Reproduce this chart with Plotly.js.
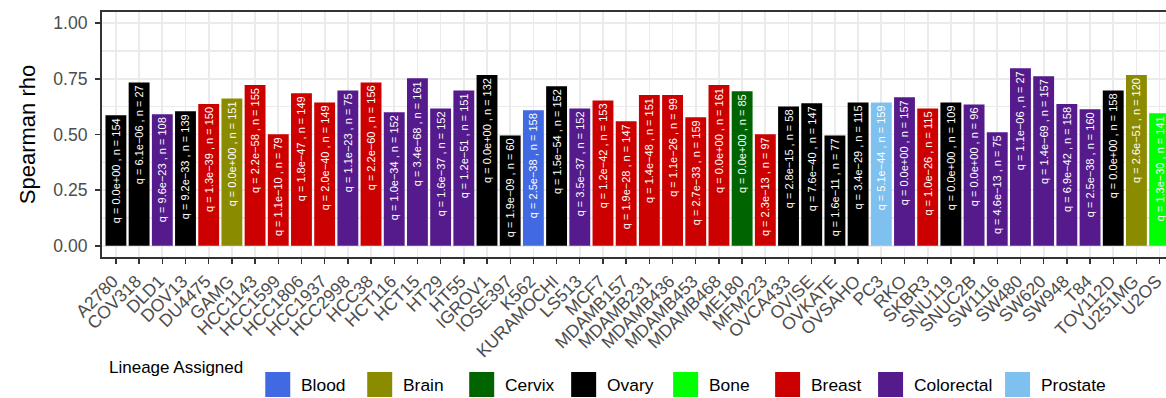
<!DOCTYPE html>
<html>
<head>
<meta charset="utf-8">
<script src="https://cdn.plot.ly/plotly-3.0.1.min.js"></script>
<style>
html,body{margin:0;padding:0;background:#fff;overflow:hidden;}
#chart{width:1166px;height:398px;}
</style>
</head>
<body>
<div id="chart"></div>
<script>
// ---------- data ----------
const cellLines = ["A2780","COV318","DLD1","DOV13","DU4475","GAMG","HCC1143","HCC1599","HCC1806","HCC1937",
  "HCC2998","HCC38","HCT116","HCT15","HT29","HT55","IGROV1","IOSE397","K562","KURAMOCHI",
  "LS513","MCF7","MDAMB157","MDAMB231","MDAMB436","MDAMB453","MDAMB468","ME180","MFM223","OVCA433",
  "OVISE","OVKATE","OVSAHO","PC3","RKO","SKBR3","SNU119","SNUC2B","SW1116","SW480",
  "SW620","SW948","T84","TOV112D","U251MG","U2OS"];

const rho = [0.586,0.734,0.591,0.604,0.637,0.662,0.722,0.501,0.685,0.644,
  0.698,0.734,0.600,0.752,0.617,0.698,0.767,0.496,0.609,0.717,
  0.617,0.653,0.559,0.677,0.677,0.577,0.722,0.694,0.501,0.626,
  0.640,0.496,0.644,0.644,0.667,0.617,0.644,0.635,0.510,0.797,
  0.762,0.637,0.613,0.698,0.767,0.595];

const lineage = ["Ovary","Ovary","Colorectal","Ovary","Breast","Brain","Breast","Breast","Breast","Breast",
  "Colorectal","Breast","Colorectal","Colorectal","Colorectal","Colorectal","Ovary","Ovary","Blood","Ovary",
  "Colorectal","Breast","Breast","Breast","Breast","Breast","Breast","Cervix","Breast","Ovary",
  "Ovary","Ovary","Ovary","Prostate","Colorectal","Breast","Ovary","Colorectal","Colorectal","Colorectal",
  "Colorectal","Colorectal","Colorectal","Ovary","Brain","Bone"];

const qValues = ["0.0e+00","6.1e\u221206","9.6e\u221223","9.2e\u221233","1.3e\u221239","0.0e+00","2.2e\u221258","1.1e\u221210","1.8e\u221247","2.0e\u221240",
  "1.1e\u221223","2.2e\u221260","1.0e\u221234","3.4e\u221268","1.6e\u221237","1.2e\u221251","0.0e+00","1.9e\u221209","2.5e\u221238","1.5e\u221254",
  "3.5e\u221237","1.2e\u221242","1.9e\u221228","1.4e\u221248","1.1e\u221226","2.7e\u221233","0.0e+00","0.0e+00","2.3e\u221213","2.8e\u221215",
  "7.6e\u221240","1.6e\u221211","3.4e\u221229","5.1e\u221244","0.0e+00","1.0e\u221226","0.0e+00","0.0e+00","4.6e\u221213","1.1e\u221206",
  "1.4e\u221269","6.9e\u221242","2.5e\u221238","0.0e+00","2.6e\u221251","1.3e\u221230"];

const nValues = [154,27,108,139,150,151,155,79,149,149,
  75,156,152,161,152,151,132,60,158,152,
  152,153,147,151,99,159,161,85,97,58,
  147,77,115,159,157,115,109,96,75,27,
  157,158,160,158,120,141];

const lineageNames  = ["Blood","Brain","Cervix","Ovary","Bone","Breast","Colorectal","Prostate"];
const lineageColors = ["#4169E1","#8B8B00","#006400","#000000","#00FF00","#CD0000","#551A8B","#7EC0EE"];

const yTickVals = [0, 0.25, 0.5, 0.75, 1];
const yTickText = ["0.00","0.25","0.50","0.75","1.00"];
const yMinorVals = [0.125, 0.375, 0.625, 0.875];

// ---------- build ----------
const FONT = "Liberation Sans, Arial, Helvetica, sans-serif";
const colorOf = {};
lineageNames.forEach((n,i)=>colorOf[n]=lineageColors[i]);
const barColors = lineage.map(l=>colorOf[l]);
const barText = qValues.map((q,i)=>"q = " + q + " , n = " + nValues[i]);

const trace = {
  type: "bar",
  x: cellLines,
  y: rho,
  width: 0.9,
  marker: {color: barColors, line: {width: 0}},
  text: barText,
  textposition: "inside",
  insidetextanchor: "end",
  textangle: -90,
  constraintext: "none",
  insidetextfont: {family: FONT, size: 11, color: "#FFFFFF"},
  hoverinfo: "x+y",
  showlegend: false
};

// plot area geometry (pixels)
const L = 101.7, T = 12, W = 1166 - L, H = 245;
const px = x => (x - L) / W;
const py = y => (T + H - y) / H;

// manual legend (ggplot-style, bottom)
const legendKeyLeft = [265, 367, 469, 571, 673, 775, 878, 1005];
const keySize = 25, keyTop = 372;
const shapes = [];
const annotations = [{
  xref: "paper", yref: "paper", x: px(107), y: py(367),
  xanchor: "left", yanchor: "middle", showarrow: false,
  text: "Lineage Assigned", font: {family: FONT, size: 17, color: "#000"}
}];
lineageNames.forEach((name, i) => {
  const x0 = legendKeyLeft[i];
  shapes.push({
    type: "rect", xref: "paper", yref: "paper",
    x0: px(x0), x1: px(x0 + keySize), y0: py(keyTop + keySize), y1: py(keyTop),
    fillcolor: lineageColors[i], line: {width: 0}
  });
  annotations.push({
    xref: "paper", yref: "paper", x: px(x0 + keySize + 9), y: py(keyTop + keySize/2),
    xanchor: "left", yanchor: "middle", showarrow: false,
    text: name, font: {family: FONT, size: 17.4, color: "#000"}
  });
});

const layout = {
  width: 1166, height: 398,
  margin: {l: L, r: 0, t: T, b: 398 - T - H, pad: 0},
  paper_bgcolor: "#FFFFFF", plot_bgcolor: "#FFFFFF",
  font: {family: FONT},
  showlegend: false,
  xaxis: {
    type: "category", categoryorder: "array", categoryarray: cellLines,
    range: [-0.6, -0.6 + W / 23.2],
    showgrid: true, gridcolor: "#EBEBEB", gridwidth: 1.7,
    showline: true, mirror: true, linecolor: "#333333", linewidth: 2,
    ticks: "outside", ticklen: 5, tickwidth: 1.4, tickcolor: "#333333",
    tickangle: -45, tickfont: {family: FONT, size: 17.6, color: "#4D4D4D"},
    ticklabelshift: -3,
    zeroline: false, automargin: false
  },
  yaxis: {
    range: [-0.05, 1.05],
    tickmode: "array", tickvals: yTickVals, ticktext: yTickText,
    showgrid: true, gridcolor: "#EBEBEB", gridwidth: 1.7,
    minor: {tickmode: "array", tickvals: yMinorVals, showgrid: true, gridcolor: "#EBEBEB", gridwidth: 1.1, ticks: ""},
    showline: true, linecolor: "#333333", linewidth: 2,
    ticks: "outside", ticklen: 5, tickwidth: 1.4, tickcolor: "#333333",
    tickfont: {family: FONT, size: 17.6, color: "#4D4D4D"},
    ticklabelstandoff: 4,
    zeroline: false, automargin: false,
    title: {text: "Spearman rho", font: {family: FONT, size: 22, color: "#000"}, standoff: 12}
  },
  shapes: shapes,
  annotations: annotations
};

Plotly.newPlot("chart", [trace], layout, {displayModeBar: false, staticPlot: true});
</script>
</body>
</html>
